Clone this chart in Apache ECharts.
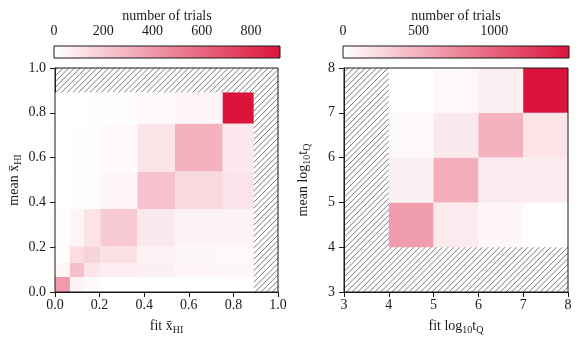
<!DOCTYPE html>
<html>
<head>
<meta charset="utf-8">
<script src="https://cdn.jsdelivr.net/npm/echarts@6/dist/echarts.min.js"></script>
<style>
  html, body { margin: 0; padding: 0; background: #fff; }
  #chart { width: 581px; height: 343px; }
</style>
</head>
<body>
<div id="chart"></div>
<script>
// left panel: bin edges for fit and mean x_HI (same on both axes)
var xhiEdges = [0, 0.067, 0.13, 0.204, 0.37, 0.538, 0.752, 0.891];
// counts, one row per mean bin (from the bottom), one column per fit bin
var xhiCounts = [
  [395, 45, 22, 0, 0, 0, 0],
  [32, 250, 100, 70, 60, 35, 33],
  [12, 137, 172, 117, 45, 30, 28],
  [10, 40, 110, 211, 85, 45, 50],
  [0, 12, 12, 40, 242, 148, 105],
  [0, 6, 6, 25, 102, 300, 90],
  [0, 0, 8, 8, 25, 40, 918]
];
var xhiMax = 918;
var xhiBarTicks = [0, 200, 400, 600, 800];
// hatched (excluded) regions [x0, x1, y0, y1]
var xhiHatch = [[0, 1, 0.891, 1], [0.891, 1, 0, 0.891]];

// right panel: log10 tQ
var tqEdges = [4, 5, 6, 7, 8];
var tqCounts = [
  [625, 128, 57, 0],
  [96, 523, 128, 128],
  [32, 140, 490, 179],
  [0, 45, 96, 1495]
];
var tqMax = 1495;
var tqBarTicks = [0, 500, 1000];
var tqHatch = [[3, 4, 3, 8], [4, 8, 3, 4]];

var font = 'Liberation Serif';
var ink = '#1a1a1a';
var lowColor = '#ffffff', highColor = '#dc143c';

function cells(edges, counts) {
  var out = [];
  for (var i = 0; i < counts.length; i++) {
    for (var j = 0; j < counts[i].length; j++) {
      out.push([edges[j], edges[j + 1], edges[i], edges[i + 1], counts[i][j]]);
    }
  }
  return out;
}

function cellItem(params, api) {
  var p0 = api.coord([api.value(0), api.value(2)]);
  var p1 = api.coord([api.value(1), api.value(3)]);
  return {
    type: 'rect',
    shape: { x: p0[0], y: p1[1], width: p1[0] - p0[0], height: p0[1] - p1[1] },
    style: { fill: api.visual('color') }
  };
}

function hatchItem(params, api) {
  var a = api.coord([api.value(0), api.value(2)]);
  var b = api.coord([api.value(1), api.value(3)]);
  var L = a[0], R = b[0], T = b[1], B = a[1];
  var step = 5.7, lines = [];
  for (var c = Math.ceil((L + T) / step) * step; c <= R + B; c += step) {
    var x1 = Math.max(L, c - B), x2 = Math.min(R, c - T);
    if (x2 <= x1) continue;
    lines.push({
      type: 'line',
      shape: { x1: x1, y1: c - x1, x2: x2, y2: c - x2 },
      style: { stroke: '#555', lineWidth: 0.8 }
    });
  }
  return { type: 'group', children: lines };
}

function frameItem(params, api) {
  var a = api.coord([api.value(0), api.value(2)]);
  var b = api.coord([api.value(1), api.value(3)]);
  return {
    type: 'rect',
    shape: { x: a[0], y: b[1], width: b[0] - a[0], height: a[1] - b[1] },
    style: { fill: null, stroke: ink, lineWidth: 1 }
  };
}

function barItem(params, api) {
  var a = api.coord([api.value(0), 0]);
  var b = api.coord([api.value(1), 1]);
  return {
    type: 'rect',
    shape: { x: a[0], y: b[1], width: b[0] - a[0], height: a[1] - b[1] },
    style: {
      fill: new echarts.graphic.LinearGradient(0, 0, 1, 0, [
        { offset: 0, color: lowColor }, { offset: 1, color: highColor }
      ]),
      stroke: ink, lineWidth: 1
    }
  };
}

var rich = {
  s: { fontFamily: font, fontSize: 10, color: ink, padding: [7, 0, 0, 0] },
  n: { fontFamily: font, fontSize: 14, color: ink }
};
var nameStyle = { fontFamily: font, fontSize: 14, color: ink, rich: rich };
var labelStyle = { fontFamily: font, fontSize: 14, color: ink };

function mainAxis(grid, min, max, step, digits, name, pos) {
  return {
    type: 'value', gridIndex: grid, min: min, max: max, interval: step, position: pos,
    axisLine: { show: true, onZero: false, lineStyle: { color: ink, width: 1 } },
    axisTick: { show: true, length: 5, lineStyle: { color: ink } },
    axisLabel: Object.assign({
      margin: pos === 'left' ? 9 : 6,
      formatter: function (v) { return v.toFixed(digits); }
    }, labelStyle),
    splitLine: { show: false },
    name: name, nameLocation: 'middle', nameGap: pos === 'left' ? 32 : 26,
    nameTextStyle: nameStyle
  };
}

function barAxis(grid, max, ticks) {
  return {
    type: 'value', gridIndex: grid, min: 0, max: max, position: 'top',
    axisLine: { show: false },
    axisTick: { show: true, length: 5, customValues: ticks, lineStyle: { color: ink } },
    axisLabel: Object.assign({
      margin: 8, customValues: ticks,
      formatter: function (v) { return String(v); }
    }, labelStyle),
    splitLine: { show: false },
    name: 'number of trials', nameLocation: 'middle', nameGap: 23,
    nameTextStyle: nameStyle
  };
}

var chart = echarts.init(document.getElementById('chart'), null, { renderer: 'canvas' });
chart.setOption({
  animation: false,
  backgroundColor: '#fff',
  grid: [
    { left: 55, top: 68, width: 223, height: 224 },
    { left: 344, top: 68, width: 224, height: 224 },
    { left: 54, top: 46, width: 226, height: 12 },
    { left: 343, top: 46, width: 226, height: 12 }
  ],
  xAxis: [
    mainAxis(0, 0, 1, 0.2, 1, '{n|fit x\u0304}{s|HI}', 'bottom'),
    mainAxis(1, 3, 8, 1, 0, '{n|fit log}{s|10}{n|t}{s|Q}', 'bottom'),
    barAxis(2, xhiMax, xhiBarTicks),
    barAxis(3, tqMax, tqBarTicks)
  ],
  yAxis: [
    mainAxis(0, 0, 1, 0.2, 1, '{n|mean x\u0304}{s|HI}', 'left'),
    mainAxis(1, 3, 8, 1, 0, '{n|mean log}{s|10}{n|t}{s|Q}', 'left'),
    { type: 'value', gridIndex: 2, min: 0, max: 1, show: false },
    { type: 'value', gridIndex: 3, min: 0, max: 1, show: false }
  ],
  visualMap: [
    { type: 'continuous', show: false, seriesIndex: 0, dimension: 4, min: 0, max: xhiMax,
      inRange: { color: [lowColor, highColor] } },
    { type: 'continuous', show: false, seriesIndex: 1, dimension: 4, min: 0, max: tqMax,
      inRange: { color: [lowColor, highColor] } }
  ],
  series: [
    { type: 'custom', xAxisIndex: 0, yAxisIndex: 0, renderItem: cellItem, data: cells(xhiEdges, xhiCounts) },
    { type: 'custom', xAxisIndex: 1, yAxisIndex: 1, renderItem: cellItem, data: cells(tqEdges, tqCounts) },
    { type: 'custom', xAxisIndex: 0, yAxisIndex: 0, renderItem: hatchItem, data: xhiHatch, silent: true },
    { type: 'custom', xAxisIndex: 1, yAxisIndex: 1, renderItem: hatchItem, data: tqHatch, silent: true },
    { type: 'custom', xAxisIndex: 0, yAxisIndex: 0, renderItem: frameItem, data: [[0, 1, 0, 1]], silent: true, z: 5 },
    { type: 'custom', xAxisIndex: 1, yAxisIndex: 1, renderItem: frameItem, data: [[3, 8, 3, 8]], silent: true, z: 5 },
    { type: 'custom', xAxisIndex: 2, yAxisIndex: 2, renderItem: barItem, data: [[0, xhiMax]], silent: true },
    { type: 'custom', xAxisIndex: 3, yAxisIndex: 3, renderItem: barItem, data: [[0, tqMax]], silent: true }
  ]
});
</script>
</body>
</html>
